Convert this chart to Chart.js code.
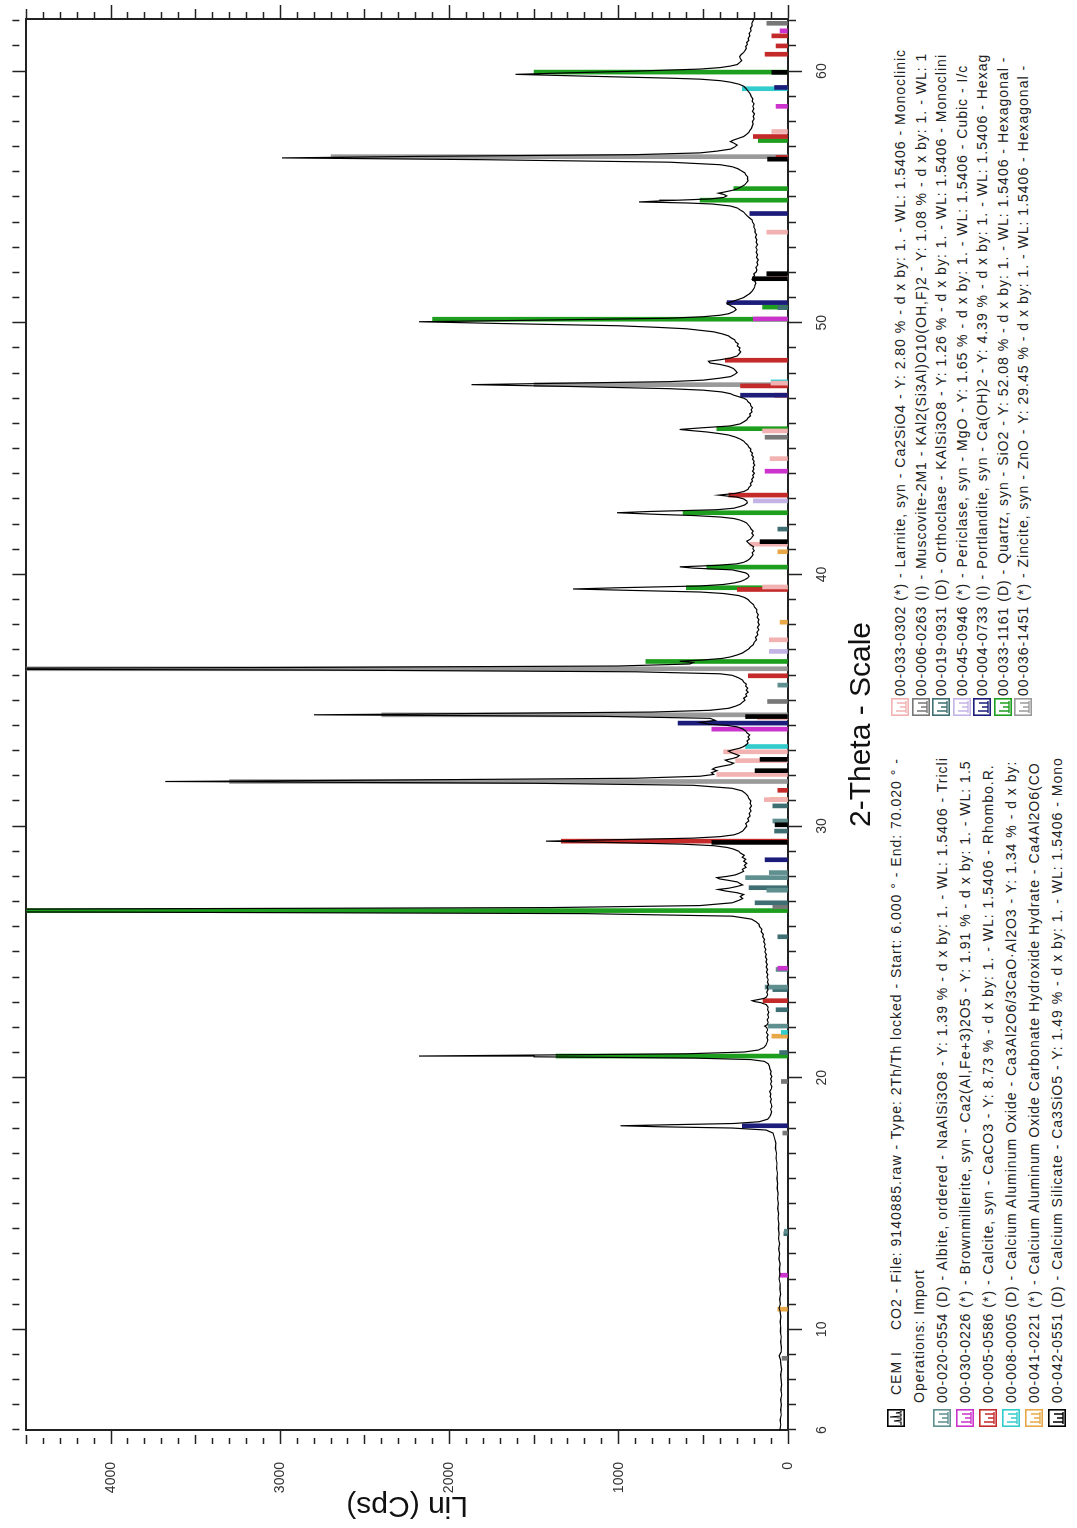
<!DOCTYPE html>
<html><head><meta charset="utf-8">
<script src="https://cdn.jsdelivr.net/npm/chart.js@4"></script>
<style>
html,body{margin:0;padding:0;overflow:hidden;background:#fff;width:1077px;height:1528px;}
#page{position:absolute;left:0;top:0;width:1528px;height:1077px;transform-origin:0 0;transform:translateY(1528px) rotate(-90deg);background:#fff;}
#c{position:absolute;left:0;top:0;}
.lg{position:absolute;font-family:Arial,"Liberation Sans",sans-serif;font-size:14px;letter-spacing:1px;color:#222;white-space:nowrap;overflow:hidden;line-height:20px;height:20px;}
.ic{position:absolute;width:18px;height:18px;}
</style></head>
<body><div id="page"><canvas id="c" width="1528" height="880"></canvas></div>
<script>
const scanAngle = [
6.0,6.2,6.4,6.6,6.8,7.0,7.2,7.4,7.6,7.8,
8.0,8.2,8.4,8.6,8.8,8.95,9.1,9.3,9.5,9.7,
9.9,10.1,10.3,10.5,10.7,10.85,11.0,11.2,11.4,11.6,
11.8,12.0,12.2,12.4,12.6,12.8,13.0,13.2,13.4,13.6,
13.8,14.0,14.2,14.4,14.6,14.8,15.0,15.2,15.4,15.6,
15.8,16.0,16.2,16.4,16.6,16.8,17.0,17.2,17.4,17.6,
17.8,17.92,18.0,18.05,18.09,18.13,18.18,18.25,18.35,18.45,
18.55,18.65,18.75,18.85,18.95,19.05,19.15,19.25,19.35,19.45,
19.55,19.65,19.75,19.85,19.95,20.05,20.15,20.25,20.35,20.45,
20.55,20.65,20.72,20.78,20.83,20.86,20.9,20.95,21.02,21.1,
21.2,21.3,21.4,21.5,21.6,21.7,21.8,21.9,22.0,22.05,
22.1,22.2,22.3,22.4,22.5,22.6,22.7,22.8,22.9,22.98,
23.03,23.06,23.1,23.15,23.2,23.3,23.4,23.5,23.6,23.7,
23.8,23.9,24.0,24.1,24.2,24.3,24.4,24.5,24.6,24.7,
24.8,24.9,25.0,25.1,25.2,25.3,25.4,25.5,25.6,25.7,
25.8,25.9,26.0,26.1,26.2,26.3,26.42,26.52,26.58,26.64,
26.7,26.76,26.84,26.95,27.05,27.12,27.2,27.28,27.35,27.42,
27.48,27.53,27.6,27.66,27.72,27.78,27.84,27.9,27.95,28.0,
28.06,28.12,28.2,28.28,28.36,28.44,28.52,28.6,28.68,28.76,
28.84,28.92,29.0,29.08,29.15,29.22,29.28,29.33,29.4,29.46,
29.52,29.58,29.65,29.72,29.8,29.9,30.0,30.1,30.2,30.3,
30.4,30.5,30.6,30.7,30.8,30.9,31.0,31.1,31.2,31.3,
31.4,31.5,31.62,31.7,31.77,31.83,31.9,31.98,32.05,32.12,
32.2,32.26,32.32,32.38,32.44,32.5,32.56,32.62,32.68,32.74,
32.8,32.86,32.92,32.98,33.04,33.1,33.16,33.22,33.3,33.38,
33.46,33.54,33.62,33.7,33.78,33.86,33.94,34.0,34.05,34.12,
34.2,34.28,34.36,34.42,34.47,34.53,34.6,34.68,34.76,34.84,
34.92,35.0,35.08,35.16,35.24,35.32,35.4,35.48,35.56,35.64,
35.72,35.8,35.88,35.94,35.99,36.05,36.13,36.2,36.25,36.3,
36.36,36.44,36.5,36.55,36.6,36.66,36.72,36.8,36.88,36.96,
37.04,37.12,37.2,37.3,37.4,37.5,37.6,37.7,37.8,37.9,
38.0,38.1,38.2,38.3,38.4,38.5,38.6,38.7,38.8,38.9,
39.0,39.08,39.16,39.24,39.3,39.36,39.42,39.47,39.54,39.6,
39.66,39.72,39.78,39.85,39.92,40.0,40.06,40.12,40.18,40.25,
40.3,40.36,40.42,40.48,40.55,40.62,40.7,40.78,40.86,40.94,
41.02,41.1,41.18,41.26,41.32,41.4,41.48,41.56,41.64,41.72,
41.8,41.88,41.96,42.04,42.1,42.16,42.22,42.28,42.34,42.38,
42.45,42.5,42.57,42.63,42.7,42.76,42.84,42.92,43.0,43.07,
43.15,43.22,43.3,43.38,43.46,43.54,43.62,43.7,43.78,43.86,
43.94,44.02,44.1,44.18,44.26,44.34,44.42,44.5,44.58,44.66,
44.74,44.82,44.9,44.98,45.06,45.14,45.22,45.3,45.38,45.46,
45.54,45.6,45.66,45.72,45.76,45.82,45.9,45.98,46.06,46.14,
46.22,46.3,46.38,46.46,46.54,46.62,46.7,46.78,46.86,46.94,
47.0,47.06,47.12,47.18,47.25,47.32,47.38,47.47,47.54,47.59,
47.66,47.72,47.8,47.86,47.94,48.02,48.1,48.18,48.26,48.34,
48.4,48.47,48.53,48.6,48.68,48.76,48.84,48.92,49.0,49.08,
49.16,49.24,49.32,49.4,49.48,49.56,49.64,49.7,49.76,49.82,
49.88,49.97,50.04,50.1,50.18,50.24,50.3,50.36,50.44,50.52,
50.6,50.66,50.72,50.78,50.84,50.92,51.0,51.08,51.16,51.24,
51.32,51.4,51.48,51.56,51.64,51.72,51.78,51.86,51.94,52.02,
52.1,52.2,52.3,52.4,52.5,52.6,52.7,52.8,52.9,53.0,
53.1,53.2,53.3,53.4,53.5,53.6,53.7,53.8,53.9,54.0,
54.08,54.16,54.24,54.32,54.4,54.48,54.56,54.64,54.72,54.76,
54.8,54.84,54.87,54.92,54.98,55.04,55.1,55.15,55.2,55.26,
55.32,55.4,55.48,55.56,55.64,55.72,55.8,55.88,55.96,56.04,
56.12,56.2,56.28,56.38,56.48,56.55,56.61,56.68,56.75,56.82,
56.9,56.98,57.06,57.14,57.2,57.26,57.32,57.4,57.48,57.56,
57.64,57.72,57.8,57.9,58.0,58.1,58.2,58.3,58.4,58.5,
58.6,58.7,58.8,58.9,59.0,59.08,59.16,59.24,59.32,59.4,
59.48,59.56,59.62,59.68,59.72,59.8,59.87,59.93,60.0,60.08,
60.14,60.2,60.26,60.34,60.42,60.5,60.58,60.66,60.74,60.82,
60.9,60.98,61.06,61.14,61.22,61.3,61.4,61.5,61.6,61.7,
61.8,61.9,62.0,62.07];
const scanCounts = [
48,43,46,40,44,39,43,37,42,38,
41,44,38,42,45,52,41,39,44,40,
45,43,47,42,46,53,45,49,44,48,
46,53,48,51,47,54,49,55,50,56,
52,57,54,59,55,61,57,62,58,64,
61,66,62,68,65,71,68,74,72,80,
88,130,330,760,990,700,320,170,120,108,
101,97,103,95,99,104,98,106,101,108,
99,96,103,97,102,96,104,100,107,110,
116,140,220,560,1500,2180,1500,600,260,175,
142,130,124,119,125,118,128,120,127,138,
124,117,123,114,120,113,121,117,128,160,
200,212,180,142,128,120,126,118,124,115,
122,117,125,119,127,121,129,122,130,125,
133,128,137,131,140,135,144,139,150,146,
158,154,168,172,190,215,330,1200,4000,9800,
4500,1400,520,330,290,268,282,262,300,370,
412,350,300,268,285,300,350,405,420,360,
310,288,262,270,248,258,244,262,250,270,
258,280,292,320,360,440,620,950,1430,1000,
560,400,320,290,268,256,244,250,232,238,
224,230,218,226,216,224,220,232,238,252,
272,330,560,1500,3680,2300,900,520,440,452,
420,446,430,388,340,322,352,370,330,300,
288,312,336,352,320,282,262,248,236,242,
228,236,226,242,250,268,300,360,470,520,
430,460,1100,2800,1900,800,460,350,312,282,
270,254,262,244,250,236,246,238,250,246,
262,268,290,310,330,400,900,2800,6200,3000,
1000,580,560,640,500,390,340,300,268,250,
232,222,206,200,186,192,178,184,172,180,
170,178,173,182,176,186,184,198,204,222,
236,256,292,380,520,900,1270,1000,520,380,
318,280,258,240,230,236,250,288,330,560,
640,420,300,262,240,226,216,206,212,200,
208,204,222,236,244,222,212,204,214,206,
218,224,234,244,262,284,320,400,560,750,
1010,820,420,320,282,256,240,244,262,300,
410,310,258,236,230,218,222,210,214,204,
208,198,210,202,206,196,204,200,210,204,
214,210,222,220,232,238,252,262,284,312,
352,410,480,580,640,520,340,284,262,244,
236,222,226,212,218,210,220,222,236,244,
262,290,320,340,390,500,700,1300,1870,1400,
700,500,400,340,316,300,310,322,350,400,
460,470,400,340,300,290,280,290,284,300,
294,310,314,336,352,390,440,520,600,780,
1000,1700,2180,1500,700,500,400,350,322,306,
316,334,350,362,330,296,262,244,226,214,
206,198,196,190,194,212,208,198,202,188,
184,190,178,184,176,186,180,188,182,190,
180,188,184,192,186,196,194,202,200,210,
212,226,240,252,262,282,300,340,450,600,
880,760,650,460,380,362,380,410,372,330,
300,276,256,246,236,240,238,250,256,276,
296,330,400,700,1800,2990,2200,900,520,420,
340,316,300,320,340,322,296,262,246,232,
226,216,212,206,210,200,206,198,210,202,
208,200,212,208,218,222,230,240,250,262,
290,340,400,520,700,1200,1610,1300,900,520,
400,340,300,286,274,282,286,276,262,254,
246,250,240,244,232,236,226,230,218,222,
212,214,206,204];

// ---- reference stick patterns: 2-Theta and stick height (counts) ----
const albiteAngles = [13.9, 22.05, 23.6, 24.3, 27.45, 27.95, 28.15, 30.2, 35.6];
const albiteHeights = [22, 118, 135, 70, 125, 250, 110, 90, 60];
const brownmilleriteAngles = [12.15, 24.35, 33.85, 44.1, 50.15, 58.6, 61.6];
const brownmilleriteHeights = [47, 60, 450, 135, 205, 70, 47];
const calciteAngles = [23.06, 29.40, 31.42, 35.97, 39.40, 43.15, 47.12, 47.49, 48.51, 56.57, 57.40, 60.67, 61.0, 61.4];
const calciteHeights = [147, 1340, 60, 235, 300, 350, 80, 280, 370, 70, 205, 135, 70, 95];
const c3aAngles = [21.8, 33.16, 47.65, 59.3];
const c3aHeights = [40, 250, 100, 270];
const hemicarbAngles = [10.8, 21.65, 31.05, 38.1, 40.9];
const hemicarbHeights = [60, 95, 106, 47, 60];
const c3sAngles = [29.35, 30.05, 32.2, 32.65, 34.35, 41.3, 51.75, 51.95, 56.5, 59.95];
const c3sHeights = [450, 77, 195, 165, 250, 165, 210, 125, 120, 95];
const larniteAngles = [31.05, 32.05, 32.6, 32.95, 34.3, 37.4, 39.5, 41.2, 44.6, 45.7, 47.6, 51.8, 53.6, 57.6];
const larniteHeights = [140, 420, 310, 380, 180, 110, 150, 225, 106, 150, 100, 120, 125, 95];
const muscoviteAngles = [8.85, 17.8, 19.85, 26.8, 34.95, 45.45, 61.9];
const muscoviteHeights = [35, 30, 40, 90, 120, 135, 125];
const orthoclaseAngles = [13.8, 21.0, 22.7, 23.5, 25.6, 26.95, 27.55, 29.8, 30.8, 41.8, 50.6];
const orthoclaseHeights = [25, 50, 70, 90, 60, 195, 230, 80, 90, 60, 60];
const periclaseAngles = [36.94, 42.92];
const periclaseHeights = [110, 205];
const portlanditeAngles = [18.09, 28.66, 34.09, 47.12, 50.8, 54.34, 59.35];
const portlanditeHeights = [270, 135, 650, 280, 360, 225, 80];
const quartzAngles = [20.86, 26.64, 36.54, 39.47, 40.29, 42.45, 45.79, 50.14, 50.62, 54.87, 55.33, 57.24, 59.96];
const quartzHeights = [1370, 4700, 840, 600, 480, 620, 420, 2100, 150, 520, 320, 175, 1500];
const zinciteAngles = [31.77, 34.42, 36.25, 47.54, 56.60];
const zinciteHeights = [3300, 2400, 4700, 1500, 2700];

// ---- axis tick labels ----
const thetaLabels = [6, 10, 20, 30, 40, 50, 60];
const linLabels = [0, 1000, 2000, 3000, 4000];

// ---- legend texts ----
const headerName = 'CEM I';
const headerText = 'CO2 - File: 9140885.raw - Type: 2Th/Th locked - Start: 6.000 ° - End: 70.020 ° -';
const operationsText = 'Operations: Import';
const legendCol1 = [
 '00-020-0554 (D) - Albite, ordered - NaAlSi3O8 - Y: 1.39 % - d x by: 1. - WL: 1.5406 - Tricli',
 '00-030-0226 (*) - Brownmillerite, syn - Ca2(Al,Fe+3)2O5 - Y: 1.91 % - d x by: 1. - WL: 1.5',
 '00-005-0586 (*) - Calcite, syn - CaCO3 - Y: 8.73 % - d x by: 1. - WL: 1.5406 - Rhombo.R.',
 '00-008-0005 (D) - Calcium Aluminum Oxide - Ca3Al2O6/3CaO·Al2O3 - Y: 1.34 % - d x by:',
 '00-041-0221 (*) - Calcium Aluminum Oxide Carbonate Hydroxide Hydrate - Ca4Al2O6(CO',
 '00-042-0551 (D) - Calcium Silicate - Ca3SiO5 - Y: 1.49 % - d x by: 1. - WL: 1.5406 - Mono'];
const legendCol2 = [
 '00-033-0302 (*) - Larnite, syn - Ca2SiO4 - Y: 2.80 % - d x by: 1. - WL: 1.5406 - Monoclinic',
 '00-006-0263 (I) - Muscovite-2M1 - KAl2(Si3Al)O10(OH,F)2 - Y: 1.08 % - d x by: 1. - WL: 1',
 '00-019-0931 (D) - Orthoclase - KAlSi3O8 - Y: 1.26 % - d x by: 1. - WL: 1.5406 - Monoclini',
 '00-045-0946 (*) - Periclase, syn - MgO - Y: 1.65 % - d x by: 1. - WL: 1.5406 - Cubic - I/c',
 '00-004-0733 (I) - Portlandite, syn - Ca(OH)2 - Y: 4.39 % - d x by: 1. - WL: 1.5406 - Hexag',
 '00-033-1161 (D) - Quartz, syn - SiO2 - Y: 52.08 % - d x by: 1. - WL: 1.5406 - Hexagonal -',
 '00-036-1451 (*) - Zincite, syn - ZnO - Y: 29.45 % - d x by: 1. - WL: 1.5406 - Hexagonal -'];

const C = {albite:'#5f8f8f', brown:'#cc33cc', calcite:'#c42a2a', c3a:'#33cccc', hemi:'#e8a848', c3s:'#000000',
           larnite:'#f2b2b2', musc:'#777777', ortho:'#3f6f72', peri:'#c4b4e6', port:'#1c1c7a', quartz:'#1e9e1e', zinc:'#9a9a9a'};
const col1Colors = [C.albite, C.brown, C.calcite, C.c3a, C.hemi, C.c3s];
const col2Colors = [C.larnite, C.musc, C.ortho, C.peri, C.port, C.quartz, C.zinc];

Chart.defaults.font.family = 'Arial, "Liberation Sans", sans-serif';

function sticks(angles, heights, color, order) {
  return {type:'bar', data: angles.map((a,i)=>({x:a, y:heights[i]})), backgroundColor: color,
          borderWidth: 0, barThickness: 4, grouped: false, order: order, xAxisID:'x', yAxisID:'y'};
}
const datasets = [
  {type:'line', data: scanAngle.map((a,i)=>({x:a, y:scanCounts[i]})), borderColor:'#000', borderWidth:1.2,
   pointRadius:0, fill:false, tension:0, order:0, xAxisID:'x', yAxisID:'y'},
  sticks(c3sAngles, c3sHeights, C.c3s, 1),
  sticks(portlanditeAngles, portlanditeHeights, C.port, 2),
  sticks(periclaseAngles, periclaseHeights, C.peri, 3),
  sticks(larniteAngles, larniteHeights, C.larnite, 4),
  sticks(c3aAngles, c3aHeights, C.c3a, 5),
  sticks(hemicarbAngles, hemicarbHeights, C.hemi, 6),
  sticks(brownmilleriteAngles, brownmilleriteHeights, C.brown, 7),
  sticks(calciteAngles, calciteHeights, C.calcite, 8),
  sticks(albiteAngles, albiteHeights, C.albite, 9),
  sticks(orthoclaseAngles, orthoclaseHeights, C.ortho, 10),
  sticks(muscoviteAngles, muscoviteHeights, C.musc, 11),
  sticks(zinciteAngles, zinciteHeights, C.zinc, 12),
  sticks(quartzAngles, quartzHeights, C.quartz, 13)
];

const X_MIN = 6, X_MAX = 62.07, Y_MIN = 0, Y_MAX = 4500;
const near = (v, m) => Math.abs(v/m - Math.round(v/m)) < 1e-6;
const border = {display:true, color:'#222', width:2};
function gridOpts(dashFn){ return {display:true, drawOnChartArea:false, drawTicks:true, tickLength:14, tickColor:'#222', tickWidth:1.5, offset:false, tickBorderDash: dashFn}; }
const xDash = c => (c.tick && near(c.tick.value,10)) ? [] : [7, 40];
const yDash = c => (c.tick && near(c.tick.value,1000)) ? [] : (c.tick && near(c.tick.value,500) ? [9,40] : [6,40]);
const labelIf = list => v => { const r = Math.round(v); return (Math.abs(v - r) < 1e-6 && list.indexOf(r) >= 0) ? String(r) : ''; };

new Chart(document.getElementById('c'), {
  type:'line',
  data:{datasets},
  options:{
    responsive:false, animation:false, devicePixelRatio:1,
    layout:{padding:0},
    plugins:{legend:{display:false}, tooltip:{enabled:false}, title:{display:false}},
    scales:{
      x:{type:'linear', position:'bottom', min:X_MIN, max:X_MAX, offset:false, border, grid:gridOpts(xDash),
         ticks:{stepSize:1, maxTicksLimit:1000, autoSkip:false, maxRotation:0, minRotation:0, includeBounds:false, padding:12,
                color:'#333', font:{size:14}, callback:labelIf(thetaLabels)},
         title:{display:true, text:'2-Theta - Scale', color:'#111', font:{size:30}, padding:{top:0,bottom:0}},
         afterFit:s=>{s.height=92;}},
      xTop:{type:'linear', position:'top', min:X_MIN, max:X_MAX, offset:false, border, grid:gridOpts(xDash),
         ticks:{stepSize:1, maxTicksLimit:1000, autoSkip:false, maxRotation:0, includeBounds:false, padding:0, font:{size:8}, callback:()=>''},
         afterFit:s=>{s.height=23;}},
      y:{type:'linear', position:'left', min:Y_MIN, max:Y_MAX, border, grid:gridOpts(yDash),
         ticks:{stepSize:100, maxTicksLimit:1000, autoSkip:false, includeBounds:false, padding:18, color:'#333', font:{size:14},
                callback:labelIf(linLabels)},
         title:{display:true, text:'Lin (Cps)', color:'#111', font:{size:30}, padding:{top:5,bottom:0}},
         afterFit:s=>{s.width=98;}},
      yRight:{type:'linear', position:'right', min:Y_MIN, max:Y_MAX, border, grid:gridOpts(yDash),
         ticks:{stepSize:100, maxTicksLimit:1000, autoSkip:false, includeBounds:false, padding:0, font:{size:8}, callback:()=>''},
         afterFit:s=>{s.width=19;}}
    }
  }
});

// ---- legend (HTML, inside the rotated page) ----
const page = document.getElementById('page');
function addText(txt, left, centerV, width){
  const d = document.createElement('div'); d.className='lg'; d.textContent = txt;
  d.style.left = left+'px'; d.style.top = (centerV-10)+'px'; if (width) d.style.width = width+'px';
  page.appendChild(d);
}
function addIcon(color, left, centerV, cem){
  const d = document.createElement('div'); d.className='ic';
  d.style.left = left+'px'; d.style.top = (centerV-9)+'px';
  const inner = cem
    ? '<polyline points="2,14 5,14 6,7 7,14 9,14 10,3 11,14 13,14 14,9 15,14 16,14" fill="none" stroke="#000" stroke-width="1.2"/>'
    : '<path d="M3 15 H15 M5 15 V5 M9 15 V9 M13 15 V6" fill="none" stroke="'+color+'" stroke-width="1.4"/>';
  d.innerHTML = '<svg width="18" height="18" viewBox="0 0 18 18"><rect x="0.8" y="0.8" width="16.4" height="16.4" fill="#fff" stroke="'+(cem?'#000':color)+'" stroke-width="1.6"/>'+inner+'</svg>';
  page.appendChild(d);
}
addIcon('#000', 101, 896, true);
addText(headerName, 133, 896);
addText(headerText, 198, 896, 600);
addText(operationsText, 125, 919);
legendCol1.forEach((t,i)=>{ addIcon(col1Colors[i], 101, 942+23*i); addText(t, 125, 942+23*i, 651); });
legendCol2.forEach((t,i)=>{ addIcon(col2Colors[i], 812, 900+20.5*i); addText(t, 832, 900+20.5*i, 651); });
</script>
</body></html>
